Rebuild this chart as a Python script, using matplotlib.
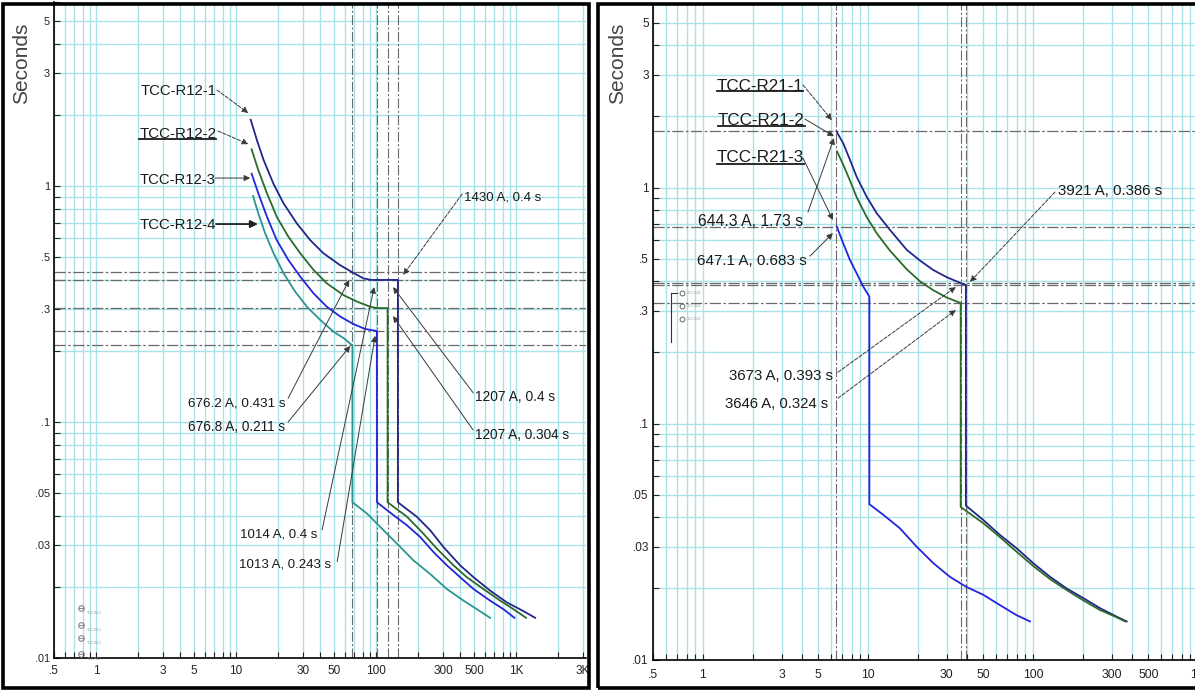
import matplotlib
matplotlib.use("Agg")
import matplotlib.pyplot as plt
from matplotlib import font_manager
from matplotlib.lines import Line2D
from matplotlib.patches import Rectangle
from matplotlib.textpath import TextPath
from matplotlib.font_manager import FontProperties
from matplotlib.transforms import IdentityTransform

# ---- data (x in A x10 on the left chart, A x100 on the right chart) ----
x_ticks = [0.5, 1, 3, 5, 10, 30, 50, 100, 300, 500, 1000, 3000]
x_tick_labels = ['.5', '1', '3', '5', '10', '30', '50', '100', '300', '500', '1K', '3K']
y_ticks = [0.01, 0.03, 0.05, 0.1, 0.3, 0.5, 1, 3, 5]
y_tick_labels = ['.01', '.03', '.05', '.1', '.3', '.5', '1', '3', '5']

r12_1_x = [12.7, 14.1, 15.7, 18.5, 21.8, 27.1, 33.8, 42.0, 55.3, 67.6, 81.2, 92, 143, 143,
           195, 243, 303, 398, 496, 652, 858, 1128, 1367]
r12_1_y = [1.91, 1.56, 1.29, 1.02, 0.845, 0.695, 0.59, 0.519, 0.462, 0.431, 0.406, 0.4, 0.4, 0.0457,
           0.0397, 0.0348, 0.0295, 0.0247, 0.0220, 0.0193, 0.0172, 0.0158, 0.0148]
r12_2_x = [12.9, 14.4, 16.6, 19.5, 23.6, 28.7, 35.7, 44.4, 58.4, 72.8, 90.6, 101, 120.7, 120.7,
           166, 212, 271, 357, 444, 584, 769, 957, 1178]
r12_2_y = [1.43, 1.167, 0.932, 0.741, 0.610, 0.519, 0.441, 0.387, 0.345, 0.324, 0.308, 0.304, 0.304, 0.0457,
           0.0397, 0.0342, 0.0291, 0.0247, 0.0220, 0.0196, 0.0175, 0.0161, 0.0148]
r12_3_x = [12.9, 14.4, 16.6, 19.5, 23.6, 28.7, 35.7, 44.4, 55.3, 68.8, 83.3, 101.3, 101.4,
           133, 166, 206, 257, 320, 398, 496, 652, 811, 973]
r12_3_y = [1.128, 0.932, 0.741, 0.590, 0.486, 0.413, 0.351, 0.308, 0.280, 0.260, 0.248, 0.243, 0.0457,
           0.0403, 0.0365, 0.0326, 0.0281, 0.0247, 0.0220, 0.0196, 0.0175, 0.0161, 0.0148]
r12_4_x = [13.2, 14.4, 16.1, 18.5, 21.8, 26.4, 32.0, 39.8, 49.6, 58.4, 67.7, 67.7,
           85.8, 107, 141, 185, 243, 320, 421, 524, 652]
r12_4_y = [0.907, 0.766, 0.631, 0.519, 0.427, 0.357, 0.308, 0.271, 0.2415, 0.227, 0.211, 0.0457,
           0.0410, 0.0359, 0.0305, 0.0259, 0.0227, 0.0196, 0.0175, 0.0161, 0.0148]
left_vlines = [67.7, 101.4, 120.7, 143]
left_hlines = [0.431, 0.4, 0.304, 0.243, 0.211]

r21_1_x = [6.443, 7.08, 7.78, 8.54, 9.82, 11.3, 13.6, 17.2, 20.7, 24.9, 30.0, 36.7, 39.21, 39.21,
           50, 63.1, 79.7, 100.4, 127, 160, 202, 255, 321, 370]
r21_1_y = [1.73, 1.54, 1.31, 1.11, 0.914, 0.778, 0.661, 0.544, 0.490, 0.447, 0.417, 0.393, 0.386, 0.0449,
           0.0390, 0.0337, 0.0296, 0.0256, 0.0224, 0.0200, 0.0182, 0.0165, 0.0152, 0.0145]
r21_2_x = [6.5, 7.08, 7.78, 8.54, 9.82, 11.3, 13.6, 17.2, 20.7, 24.9, 30.0, 36.46, 36.46,
           50, 63.1, 79.7, 100.4, 127, 160, 202, 255, 321, 361]
r21_2_y = [1.42, 1.25, 1.07, 0.91, 0.75, 0.64, 0.54, 0.45, 0.40, 0.367, 0.342, 0.324, 0.0443,
           0.0378, 0.0330, 0.0286, 0.0249, 0.0219, 0.0197, 0.0178, 0.0162, 0.0151, 0.0145]
r21_3_x = [6.471, 7.08, 7.78, 8.54, 9.37, 10.2, 10.2,
           12.4, 15.6, 19.7, 24.9, 31.4, 39.5, 50, 63.1, 79.7, 95.9]
r21_3_y = [0.683, 0.580, 0.493, 0.433, 0.380, 0.345, 0.0455,
           0.0410, 0.0360, 0.0301, 0.0256, 0.0224, 0.0203, 0.0188, 0.0170, 0.0154, 0.0145]
right_vlines = [6.443, 36.46, 39.21]
right_hlines = [1.73, 0.683, 0.393, 0.386, 0.324]

# callouts: text, anchor (x, y), alignment, width px, cap px, arrow tail, arrow tip, dashed, underline
left_notes = [
    ('TCC-R12-1', (3.85, 2.56), 'center', 68, 14, (7.30, 2.55), (12.2, 2.04), True, False),
    ('TCC-R12-2', (3.82, 1.686), 'center', 69, 14, (7.43, 1.71), (12.2, 1.506), True, True),
    ('TCC-R12-3', (3.79, 1.074), 'center', 68, 14, (7.08, 1.081), (12.6, 1.081), False, False),
    ('TCC-R12-4', (3.82, 0.690), 'center', 69, 14, (7.19, 0.690), (14.3, 0.690), False, False),
    ('1430 A, 0.4 s', (425, 0.909), 'left', 69, 12, (411, 0.925), (156, 0.420), True, False),
    ('676.2 A, 0.431 s', (22.4, 0.122), 'right', 87, 12.5, (23.5, 0.126), (64.2, 0.40), False, False),
    ('676.8 A, 0.211 s', (22.4, 0.0963), 'right', 87, 12.5, (23.5, 0.1), (65.3, 0.21), False, False),
    ('1014 A, 0.4 s', (37.9, 0.0339), 'right', 68, 12.5, (41.1, 0.0349), (96.8, 0.373), False, False),
    ('1013 A, 0.243 s', (47.7, 0.0254), 'right', 82, 12.5, (52.7, 0.0256), (98.4, 0.232), False, False),
    ('1207 A, 0.4 s', (509, 0.129), 'left', 72, 12.5, (493, 0.133), (132, 0.373), False, False),
    ('1207 A, 0.304 s', (509, 0.0890), 'left', 85, 12.5, (493, 0.0925), (132, 0.281), False, False),
]
right_notes = [
    ('TCC-R21-1', (2.216, 2.72), 'center', 80, 14.5, (4.04, 2.72), (6.05, 1.93), True, True),
    ('TCC-R21-2', (2.25, 1.95), 'center', 80, 14.5, (4.15, 1.95), (6.22, 1.65), False, True),
    ('TCC-R21-3', (2.23, 1.36), 'center', 81, 14.5, (4.04, 1.333), (6.13, 0.728), False, True),
    ('644.3 A, 1.73 s', (4.04, 0.728), 'right', 98, 13, (4.33, 0.787), (6.22, 1.62), False, False),
    ('647.1 A, 0.683 s', (4.27, 0.493), 'right', 102, 13, (4.45, 0.512), (6.13, 0.641), False, False),
    ('3673 A, 0.393 s', (6.14, 0.1605), 'right', 96, 13, (6.58, 0.165), (34.1, 0.379), True, False),
    ('3646 A, 0.324 s', (5.72, 0.1228), 'right', 95, 13, (6.58, 0.128), (34.1, 0.303), True, False),
    ('3921 A, 0.386 s', (141.8, 0.976), 'left', 96, 13, (136, 0.957), (41.5, 0.398), True, False),
]

NAVY = '#24258a'
GREEN = '#2d6a2a'
BLUE = '#2424dc'
TEAL = '#2b9590'
GRID = '#a9e2e8'
REF = '#6a6a6a'
INK = '#1a1a1a'

# Arial-like face; a real narrow Arial clone is used when the machine has one
narrow = None
for f in font_manager.fontManager.ttflist:
    if 'Liberation Sans Narrow' == f.name and f.style == 'normal' and f.weight in (400, 'normal', 'regular'):
        narrow = f.fname
        break
FP = FontProperties(fname=narrow) if narrow else FontProperties(family='Liberation Sans')
plt.rcParams['font.family'] = ['Liberation Sans', 'DejaVu Sans']
CAP100 = TextPath((0, 0), 'H', size=100, prop=FP).get_extents().height

W, H = 1195, 691
fig = plt.figure(figsize=(W / 100, H / 100), dpi=100)
fig.patch.set_facecolor('white')


def px_axes(left, top, right, bottom):
    return fig.add_axes([left / W, 1 - bottom / H, (right - left) / W, (bottom - top) / H])


def fit_size(s, width, cap):
    # font size (pt) leaning on the width of the text, a bit toward its cap height
    w100 = TextPath((0, 0), s, size=100, prop=FP).get_extents().width
    size_w = width * 72.0 / w100
    size_h = cap * 72.0 / CAP100
    return size_w ** 0.75 * size_h ** 0.25


def setup(ax, xsize, ysize, xpad, ypad):
    ax.set_xscale('log')
    ax.set_yscale('log')
    minor_x = [m * 10.0 ** e for e in range(-1, 4) for m in range(1, 10)]
    minor_y = [m * 10.0 ** e for e in range(-2, 1) for m in range(1, 10)]
    ax.set_xticks(minor_x, minor=True)
    ax.set_yticks(minor_y, minor=True)
    ax.set_xticks(x_ticks)
    ax.set_xticklabels(x_tick_labels)
    ax.set_yticks(y_ticks)
    ax.set_yticklabels(y_tick_labels)
    ax.tick_params(which='both', direction='in', length=4, width=0.8, color='#222')
    ax.tick_params(which='minor', labelbottom=False, labelleft=False)
    ax.tick_params(axis='x', labelsize=xsize, pad=xpad, labelcolor='#222')
    ax.tick_params(axis='y', labelsize=ysize, pad=ypad, labelcolor='#222')
    ax.grid(True, which='both', color=GRID, lw=1.0)
    ax.set_axisbelow(True)
    ax.spines['top'].set_visible(False)
    ax.spines['right'].set_visible(False)
    ax.spines['left'].set_linewidth(1.2)
    ax.spines['bottom'].set_linewidth(1.2)


def refs(ax, vl, hl):
    for v in vl:
        ax.axvline(v, color=REF, lw=0.8, ls=(0, (9, 2, 2, 2)), zorder=2)
    for h in hl:
        ax.axhline(h, color=REF, lw=0.9, ls=(0, (9, 2, 2, 2)), zorder=2)


def callouts(ax, notes):
    unders = []
    for s, pos, ha, w, cap, tail, tip, dashed, under in notes:
        size = fit_size(s, w, cap)
        real_cap = CAP100 * size / 72.0
        t = ax.annotate(s, xy=pos, xytext=(0, -real_cap / 2), textcoords='offset pixels',
                        ha=ha, va='baseline', fontproperties=FP, fontsize=size, color=INK, zorder=6)
        if under:
            unders.append((t, real_cap))
        thick = s == 'TCC-R12-4'
        ax.annotate('', xy=tip, xytext=tail, zorder=6,
                    arrowprops=dict(arrowstyle='-|>', mutation_scale=11 if thick else 9,
                                    color='#222' if thick else '#3a3a3a', lw=1.3 if thick else 0.7,
                                    ls='--' if dashed else '-', shrinkA=0, shrinkB=0))
    return unders


# frames around the two panels
fig.add_artist(Rectangle((3 / W, 3 / H), 586 / W, 684 / H, transform=fig.transFigure,
                         fill=False, ec='black', lw=2.6, zorder=10))
fig.add_artist(Rectangle((598 / W, 3 / H), 640 / W, 684 / H, transform=fig.transFigure,
                         fill=False, ec='black', lw=2.6, zorder=10))

# ---- left chart ----
ax1 = px_axes(54, 2.4, 586, 658)
setup(ax1, 8.5, 7.8, 5.0, 3.0)
refs(ax1, left_vlines, left_hlines)
ax1.plot(r12_1_x, r12_1_y, color=NAVY, lw=1.3, zorder=4)
ax1.plot(r12_2_x, r12_2_y, color=GREEN, lw=1.3, zorder=4)
ax1.plot(r12_3_x, r12_3_y, color=BLUE, lw=1.3, zorder=4)
ax1.plot(r12_4_x, r12_4_y, color=TEAL, lw=1.3, zorder=4)

# tiny curve legend at the bottom left
for yy in [0.0163, 0.0138, 0.0122, 0.0104]:
    ax1.plot([0.78], [yy], marker='o', ms=4, mfc='none', mec='#777', mew=0.7, zorder=5)
    ax1.plot([0.755, 0.805], [yy, yy], color='#777', lw=0.6, zorder=5)
    ax1.text(0.86, yy * 0.94, 'TCC-R12', fontsize=2.5, color='#999', zorder=5)
ax1.set_xlim(0.5, 3155)
ax1.set_ylim(0.01, 6)

# ---- right chart ----
ax2 = px_axes(653.3, 3.9, 1280.3, 659.5)
setup(ax2, 8.8, 8.5, 6.5, 3.2)
refs(ax2, right_vlines, right_hlines)
ax2.plot(r21_1_x, r21_1_y, color=NAVY, lw=1.3, zorder=4)
ax2.plot(r21_2_x, r21_2_y, color=GREEN, lw=1.3, zorder=4)
ax2.plot(r21_3_x, r21_3_y, color=BLUE, lw=1.3, zorder=4)

# small setting marker near the left edge
ax2.plot([0.64, 0.64], [0.357, 0.221], color='#333', lw=0.8, zorder=5)
ax2.plot([0.64, 0.70], [0.357, 0.357], color='#333', lw=0.8, zorder=5)
for yy in [0.357, 0.315, 0.277]:
    ax2.plot([0.746], [yy], marker='o', ms=3.5, mfc='none', mec='#666', mew=0.7, zorder=5)
    ax2.text(0.80, yy, 'TCC-R21', fontsize=2.5, color='#999', va='center', zorder=5)
ax2.set_xlim(0.5, 3155)
ax2.set_ylim(0.01, 6)

unders = callouts(ax1, left_notes) + callouts(ax2, right_notes)

fig.text(22 / W, 1 - 63 / H, 'Seconds', rotation=90, ha='center', va='center',
         fontsize=15, color='#444')
fig.text(618 / W, 1 - 63 / H, 'Seconds', rotation=90, ha='center', va='center',
         fontsize=15, color='#444')

# underline the labelled relays
fig.canvas.draw()
renderer = fig.canvas.get_renderer()
for t, cap in unders:
    bb = t.get_window_extent(renderer)
    base = t.get_transform().transform(t.xy)[1] - cap / 2
    fig.add_artist(Line2D([bb.x0, bb.x1], [base - 3, base - 3], transform=IdentityTransform(),
                          color=INK, lw=1.3, zorder=8))

fig.savefig('out.png', dpi=100)
